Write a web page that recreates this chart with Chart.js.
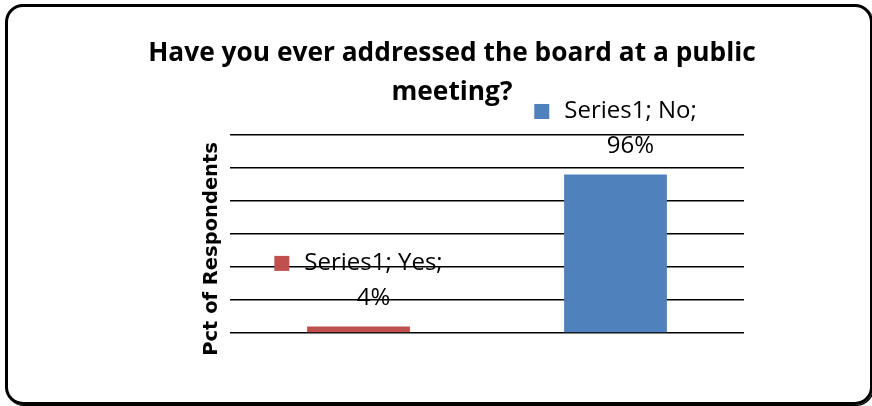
<!DOCTYPE html>
<html>
<head>
<meta charset="utf-8">
<script src="https://cdn.jsdelivr.net/npm/chart.js@4.4.0/dist/chart.umd.min.js"></script>
<style>
    html, body { margin: 0; padding: 0; background: #fff; overflow: hidden; }
    #wrap { position: relative; width: 872px; height: 406px; }
    #frame {
        position: absolute; left: 5px; top: 4px; width: 868px; height: 401px;
        box-sizing: border-box; border: 3px solid #000; border-radius: 18px;
        box-shadow: 1px 1px 0 #000;
    }
    canvas { position: absolute; left: 0; top: 0; }
</style>
</head>
<body>
<div id="wrap">
    <div id="frame"></div>
    <canvas id="chart" width="872" height="406"></canvas>
</div>
<script>
var seriesName = 'Series1';
var categories = ['Yes', 'No'];
var values = [4, 96];
var barColors = ['#C0504D', '#4F81BD'];
var yMin = 0, yMax = 120, yStep = 20;
var yTitle = 'Pct of Respondents';

// "Series1; Yes;" with a colour key, value % on the line below
var pointLabels = {
    id: 'pointLabels',
    afterDatasetsDraw: function(chart) {
        var ctx = chart.ctx;
        var meta = chart.getDatasetMeta(0);
        ctx.save();
        ctx.font = '24px "Open Sans"';
        ctx.textBaseline = 'middle';
        meta.data.forEach(function(bar, i) {
            var line1 = seriesName + '; ' + categories[i] + ';';
            var line2 = values[i] + '%';
            var textW = ctx.measureText(line1).width;
            var key = 15, gap = 15;
            var left = bar.x - (key + gap + textW) / 2;
            var y2 = bar.y - 28;
            var y1 = y2 - 35;
            ctx.fillStyle = barColors[i];
            ctx.fillRect(left, y1 - key / 2, key, key);
            ctx.fillStyle = '#000';
            ctx.textAlign = 'left';
            ctx.fillText(line1, left + key + gap, y1);
            ctx.textAlign = 'center';
            ctx.fillText(line2, left + key + gap + textW / 2, y2);
        });
        ctx.restore();
    }
};

// axis title sits a bit below the middle of the plot
var yAxisTitle = {
    id: 'yAxisTitle',
    afterDraw: function(chart) {
        var a = chart.chartArea;
        var ctx = chart.ctx;
        ctx.save();
        ctx.translate(a.left - 18, (a.top + a.bottom) / 2 + 15);
        ctx.rotate(-Math.PI / 2);
        ctx.font = 'bold 19.5px "DejaVu Sans"';
        ctx.fillStyle = '#000';
        ctx.textAlign = 'center';
        ctx.textBaseline = 'middle';
        ctx.fillText(yTitle, 0, 0);
        ctx.restore();
    }
};

var ctx = document.getElementById('chart').getContext('2d');
var myChart = new Chart(ctx, {
    type: 'bar',
    data: {
        labels: categories,
        datasets: [{
            label: seriesName,
            data: values,
            backgroundColor: barColors,
            borderWidth: 0,
            barPercentage: 0.4,
            categoryPercentage: 1
        }]
    },
    options: {
        responsive: false,
        animation: false,
        layout: { padding: { left: 140, right: 108, top: 0, bottom: 73 } },
        plugins: {
            legend: { display: false },
            tooltip: { enabled: false },
            title: {
                display: true,
                text: ['Have you ever addressed the board at a public', 'meeting?'],
                color: '#000',
                font: { family: 'Open Sans', size: 26.3, weight: 'bold', lineHeight: 1.48 },
                padding: { top: 34, bottom: 23 }
            }
        },
        scales: {
            x: { display: false },
            y: {
                min: yMin,
                max: yMax,
                ticks: { display: false, stepSize: yStep },
                grid: { color: '#000', lineWidth: 1.5, drawTicks: false },
                border: { display: false },
                afterFit: function(scale) { scale.width = 90; }
            },
            // empty spacer on the right so the plot stops short of the title's width
            yRight: {
                position: 'right',
                min: yMin,
                max: yMax,
                ticks: { display: false },
                grid: { display: false },
                border: { display: false },
                afterFit: function(scale) { scale.width = 20; }
            }
        }
    },
    plugins: [pointLabels, yAxisTitle]
});
</script>
</body>
</html>
